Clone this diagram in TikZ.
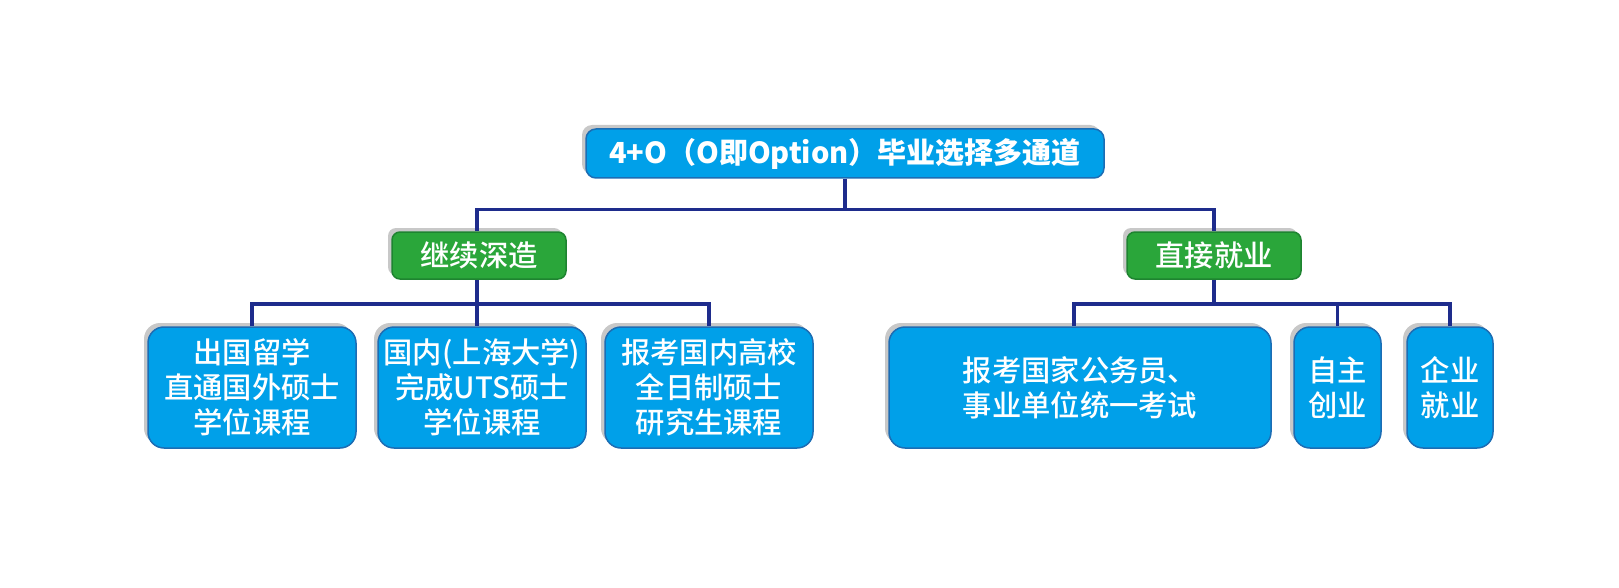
\documentclass[tikz,border=0pt]{standalone}
\usepackage{fontspec}
\setmainfont{Noto Sans CJK SC}
\IfFontExistsTF{Noto Sans CJK SC Medium}{\newfontfamily\medfont{Noto Sans CJK SC Medium}}{\newcommand\medfont{\normalfont}}
\usetikzlibrary{shadows}
\definecolor{boxblue}{HTML}{00A0E9}
\definecolor{boxedge}{HTML}{1C6DB4}
\definecolor{boxgreen}{HTML}{2AA63A}
\definecolor{greenedge}{HTML}{1E8430}
\definecolor{linenavy}{HTML}{1E2C8C}
\definecolor{shade}{HTML}{C8C8C8}

\begin{document}
\begin{tikzpicture}[x=1pt,y=-1pt,every node/.style={text=white,align=center,inner sep=0pt},
sh/.style={drop shadow={shadow xshift=-4pt,shadow yshift=4pt,fill=shade,opacity=1}},
topbox/.style={sh,fill=boxblue,draw=boxedge,line width=1.5pt,rounded corners=10pt,font=\fontsize{29}{35}\selectfont\bfseries},
midbox/.style={sh,fill=boxgreen,draw=greenedge,line width=1.5pt,rounded corners=8pt,minimum width=174pt,minimum height=47pt,font=\fontsize{29.3}{35}\selectfont\medfont},
leaf/.style={sh,fill=boxblue,draw=boxedge,line width=1.5pt,rounded corners=16pt,minimum height=121pt,font=\fontsize{29.3}{35}\selectfont\medfont},
link/.style={draw=linenavy,line width=3.5pt}]
\useasboundingbox (0,0) rectangle (1619,588);
% top
\node[topbox,minimum width=518pt,minimum height=49pt] (root) at (845,153.5){4+O（O即Option）毕业选择多通道};
% two ways
\node[midbox] (study) at (479,255.5){继续深造};\node[midbox] (job) at (1214,255.5){直接就业};
% leaves
\node[leaf,minimum width=208pt] (abroad) at (252,387.5){出国留学\\直通国外硕士\\学位课程};
\node[leaf,minimum width=208pt] (home) at (482,387.5){国内(上海大学)\\完成UTS硕士\\学位课程};
\node[leaf,minimum width=208pt] (exam) at (709,387.5){报考国内高校\\全日制硕士\\研究生课程};
\node[leaf,minimum width=382pt] (civil) at (1080,387.5){报考国家公务员、\\事业单位统一考试};
\node[leaf,minimum width=87pt] (self) at (1337.5,387.5){自主\\创业};
\node[leaf,minimum width=86pt] (corp) at (1450,387.5){企业\\就业};
% links
\draw[link] (root.south)--++(0,31) coordinate (j0);\draw[link] ([xshift=-2pt]study.north)|-(j0)-|(job.north);
\draw[link] ([xshift=-2pt]study.south)--++(0,24) coordinate (j1);\draw[link] (abroad.north)|-(j1)-|(exam.north);\draw[link] (j1)--(j1|-home.north);
\draw[link] (job.south)--++(0,24) coordinate (j2);\draw[link] ([xshift=-6pt]civil.north)|-(j2)-|(corp.north);\draw[link] (self.north)--(self.north|-j2);
\end{tikzpicture}
\end{document}
